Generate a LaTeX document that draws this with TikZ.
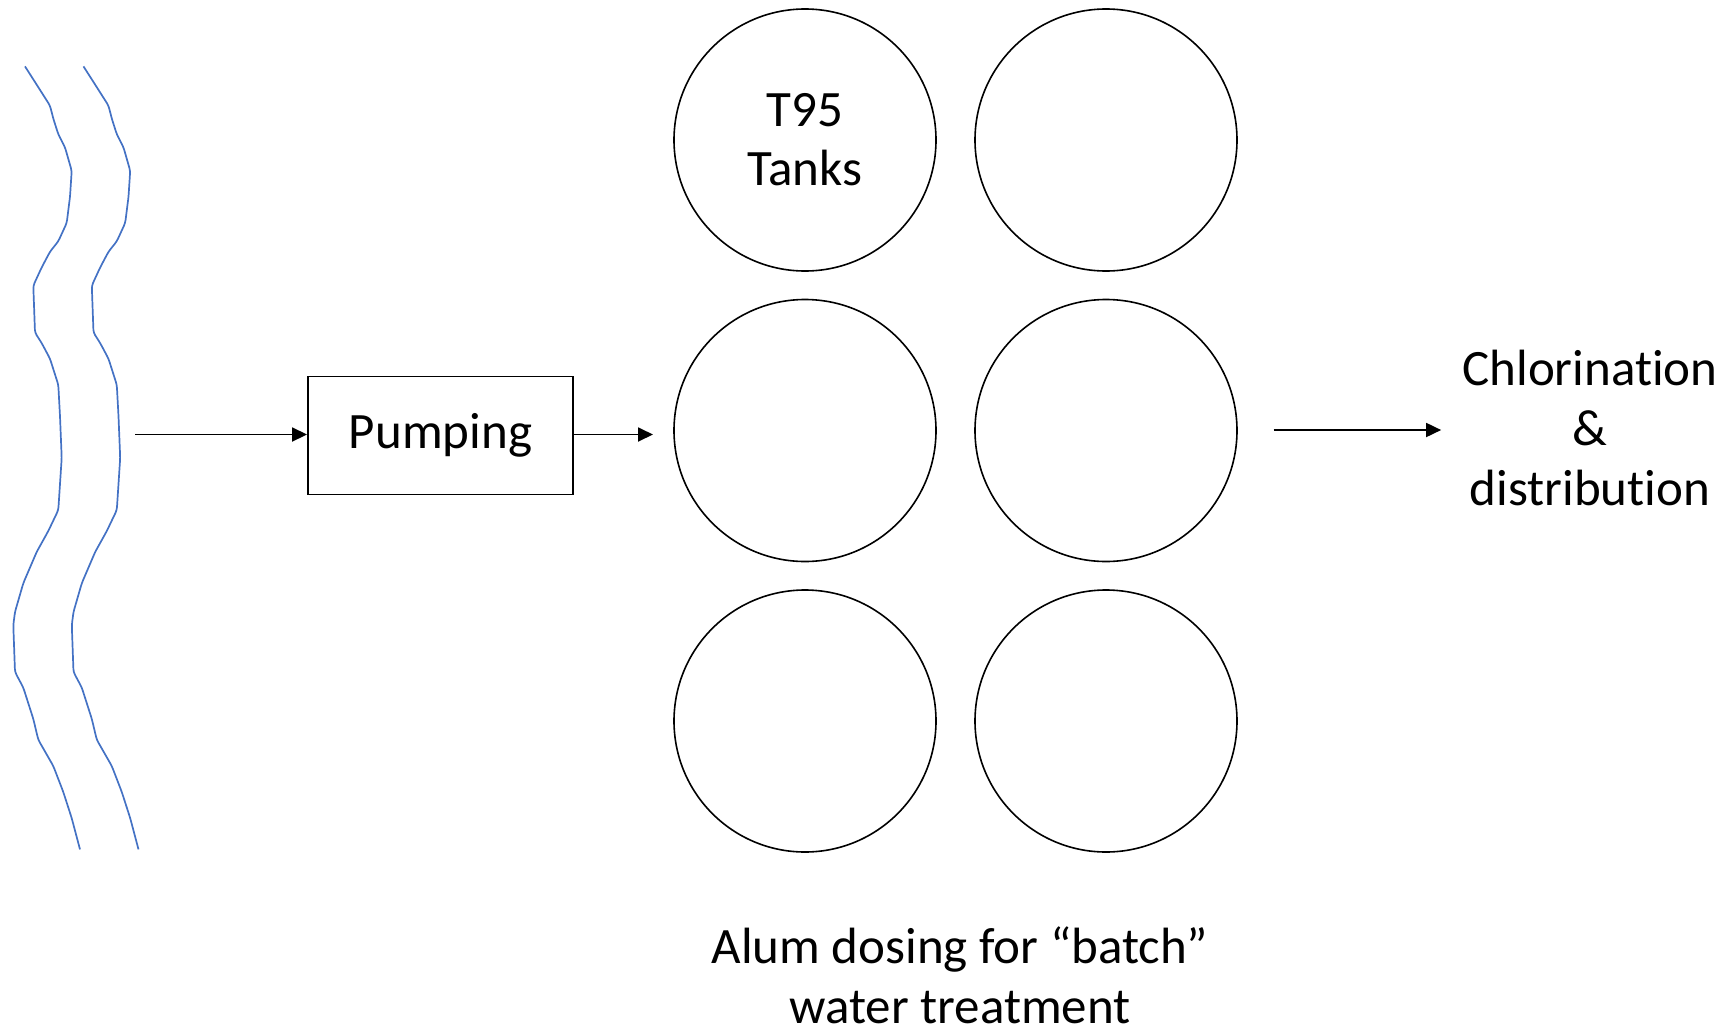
\documentclass[tikz,border=0pt]{standalone}
\usepackage{fontspec}
\setmainfont{Carlito}[Ligatures={NoCommon,NoRare}, Contextuals=NoAlternate, RawFeature={-liga;-clig;-calt;-dlig}]
\usetikzlibrary{arrows.meta}

\definecolor{riverblue}{HTML}{4472C4}

\tikzset{
  label/.style={font=\fontsize{51}{60}\selectfont, inner sep=0pt, align=center},
  tank/.style={circle, draw=black, line width=1.6pt, minimum size=262pt, inner sep=0pt,
               font=\fontsize{51}{59}\selectfont, align=center},
  stagebox/.style={draw=black, line width=1.9pt, minimum width=265pt, minimum height=118pt,
                   inner sep=0pt, font=\fontsize{51}{60}\selectfont},
  flow/.style={line width=1.8pt, -{Triangle[length=15pt,width=14pt]}},
  river/.style={draw=riverblue, line width=1.7pt, rounded corners=3pt}
}

\begin{document}
\begin{tikzpicture}[x=1pt, y=-1pt]
  \useasboundingbox (0,0) rectangle (1735,1028);

  % river banks
  \foreach \dx in {0, 58.5} {
    \draw[river, xshift=\dx pt] plot coordinates {
      (25.0,66.4) (36.7,84.7) (50.0,105.6) (53.3,118.6) (58.3,134.3) (65.0,147.3)
      (71.7,170.8) (70.0,196.9) (66.7,223.0) (58.3,241.3) (50.0,251.7) (41.7,267.4)
      (33.3,285.6) (35.0,332.6) (41.7,343.1) (50.0,358.7) (58.3,384.8) (60.0,416.1)
      (61.7,457.9) (60.0,484.0) (58.3,510.1) (48.3,531.0) (36.7,551.9) (23.3,583.2)
      (15.0,611.9) (13.3,625.0) (15.0,672.0) (23.3,687.6) (33.3,718.9) (38.3,739.8)
      (53.3,766.0) (63.3,792.0) (71.7,818.1) (80.0,849.4)
    };
  }

  % pumping stage
  \node[stagebox] (pump) at (440.5,435.5) {Pumping};
  \coordinate (intake) at (135,434.5);
  \coordinate (feed) at (653,434.5);
  \draw[flow] (intake) -- (intake -| pump.west);
  \draw[flow] (feed -| pump.east) -- (feed);

  % tank bank
  \node[tank] (t11) at (805,140) {T95\\Tanks};
  \node[tank] (t12) at (1106,140) {};
  \node[tank] (t21) at (805,430.5) {};
  \node[tank] (t22) at (1106,430.5) {};
  \node[tank] (t31) at (805,721) {};
  \node[tank] (t32) at (1106,721) {};

  % outlet
  \node[label, anchor=base] (chl) at (1590,505) {Chlorination\\\&\\distribution};
  \coordinate (outlet) at (1273.5,430);
  \draw[flow, shorten >=21pt] (outlet) -- (outlet -| chl.west);

  % caption
  \node[label, anchor=base] (note) at (960,1023) {Alum dosing for “batch”\\water treatment};
\end{tikzpicture}
\end{document}
